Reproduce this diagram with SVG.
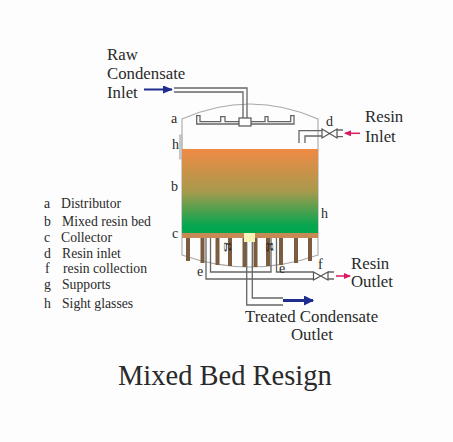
<svg xmlns="http://www.w3.org/2000/svg" width="453" height="442" viewBox="0 0 453 442">
<style>
text{font-family:"Liberation Serif","Times New Roman",serif;fill:#2a2a2a}
.t{font-size:16.8px}.l{font-size:14px}.s{font-size:13.700px}.g{font-size:10.500px}
.d{fill:none;stroke:#666;stroke-width:1.3}
.v{fill:#fff;stroke:#555;stroke-width:1.2}
.w{fill:none;stroke:#a8a8a8;stroke-width:1.1}
.leg{fill:#7b5c3e}
</style>
<defs>
<linearGradient id="bed" x1="0" y1="0" x2="0" y2="1"><stop offset="0" stop-color="#f08a45"/><stop offset="0.5" stop-color="#a89a4c"/><stop offset="0.92" stop-color="#04a650"/></linearGradient>
<marker id="blue" markerWidth="10" markerHeight="8" refX="9" refY="4" orient="auto" markerUnits="userSpaceOnUse"><path d="M0 0L10 4L0 8Z" fill="#1f2d8f"/></marker>
<marker id="blue2" markerWidth="10" markerHeight="10" refX="9" refY="5" orient="auto" markerUnits="userSpaceOnUse"><path d="M0 0L10 5L0 10Z" fill="#1f2d8f"/></marker>
<marker id="pink" markerWidth="7" markerHeight="6" refX="6" refY="3" orient="auto" markerUnits="userSpaceOnUse"><path d="M0 0L7 3L0 6Z" fill="#d81b60"/></marker>
</defs>
<rect width="453" height="442" fill="#fdfdfd"/>
<g id="vessel">
<path class="w" d="M182 149V119Q250 89 318 119V149M182 238V255Q250 279 318 255V238"/>
<path class="w" d="M182 149V238M318 149V238"/>
<rect x="179.500" y="135" width="2.500" height="24" fill="#c8c8c8" stroke="#aaa" stroke-width="0.5"/>
</g>
<g id="bed"><rect x="182" y="149" width="136" height="84" fill="url(#bed)"/></g>
<g id="supports">
<rect class="leg" x="186" y="238" width="4" height="23"/><rect class="leg" x="200.500" y="238" width="4" height="25"/>
<rect class="leg" x="215.500" y="238" width="4" height="27"/><rect class="leg" x="228" y="238" width="4" height="28"/>
<rect class="leg" x="242.500" y="238" width="4" height="29"/><rect class="leg" x="253.500" y="238" width="4" height="29"/>
<rect class="leg" x="266" y="238" width="4" height="28"/><rect class="leg" x="279" y="238" width="4" height="27"/>
<rect class="leg" x="294" y="238" width="4" height="25"/><rect class="leg" x="308" y="238" width="4" height="23"/>
</g>
<g id="collector"><rect x="182" y="233" width="136" height="5" fill="#c88a55"/><rect x="244" y="233" width="11" height="9" fill="#f7f2b8"/></g>
<g id="connectors">
<path class="d" d="M174 88H247V118M174 92H243V118"/>
<path class="d" d="M239 124H196.700V115.700H200V121.700H220.700V116.700H225V121.700H239"/>
<path class="d" d="M251 124H294V115.700H290.700V121.700H268V116.700H265V121.700H251"/>
<path class="d" d="M299 143V130.700H322M305 143V136H322"/>
<path class="d" d="M337 130H343M337 136.700H343"/>
<path class="d" d="M206 238V279H313M210.500 238V272H271V238M276.500 238V272H313"/>
<path class="d" d="M246.700 242V305H283M252.300 242V298H283"/>
<path class="d" d="M328 272H334M328 279H334"/>
<path d="M283 300.500H313" stroke="#1f2d8f" stroke-width="3" fill="none" marker-end="url(#blue2)"/>
<path d="M144 89.500H172" stroke="#1f2d8f" stroke-width="2" fill="none" marker-end="url(#blue)"/>
<path d="M360 133.300H345" stroke="#d81b60" stroke-width="1.500" fill="none" marker-end="url(#pink)"/>
<path d="M336 276H350" stroke="#d81b60" stroke-width="1.500" fill="none" marker-end="url(#pink)"/>
</g>
<g id="distributor-box"><rect class="v" x="239" y="118" width="12" height="8"/></g>
<g id="valve-d"><path class="v" d="M322 129L337 138V129L322 138Z"/></g>
<g id="valve-f"><path class="v" d="M313.500 272L328 280V272L313.500 280Z"/></g>
<g id="labels">
<text class="t" x="107" y="60">Raw</text><text class="t" x="107" y="79">Condensate</text><text class="t" x="107" y="98">Inlet</text>
<text class="t" x="365" y="122">Resin</text><text class="t" x="365" y="142">Inlet</text>
<text class="t" x="351" y="269">Resin</text><text class="t" x="351" y="287">Outlet</text>
<text class="t" x="245" y="322">Treated Condensate</text><text class="t" x="291" y="340">Outlet</text>
<text x="118" y="385" font-size="28.500">Mixed Bed Resign</text>
<text class="l" x="171" y="123">a</text><text class="l" x="172" y="149">h</text><text class="l" x="171" y="191">b</text><text class="l" x="172" y="238">c</text>
<text class="l" x="326" y="126">d</text><text class="l" x="321" y="218">h</text><text class="l" x="197" y="276">e</text><text class="l" x="279" y="273">e</text><text class="l" x="318" y="269">f</text>
<text class="g" transform="translate(225.500 241.500) rotate(90) scale(2,1)">g</text><text class="g" transform="translate(267.500 241.500) rotate(90) scale(2,1)">g</text>
<text class="s" x="44" y="208">a</text><text class="s" x="61" y="208">Distributor</text>
<text class="s" x="44" y="225.500">b</text><text class="s" x="62" y="225.500">Mixed resin bed</text>
<text class="s" x="44" y="242">c</text><text class="s" x="61" y="242">Collector</text>
<text class="s" x="44" y="258">d</text><text class="s" x="62" y="258">Resin inlet</text>
<text class="s" x="45" y="273">f</text><text class="s" x="63" y="273">resin collection</text>
<text class="s" x="44" y="289">g</text><text class="s" x="62" y="289">Supports</text>
<text class="s" x="44" y="308">h</text><text class="s" x="62" y="308">Sight glasses</text>
</g>
</svg>
